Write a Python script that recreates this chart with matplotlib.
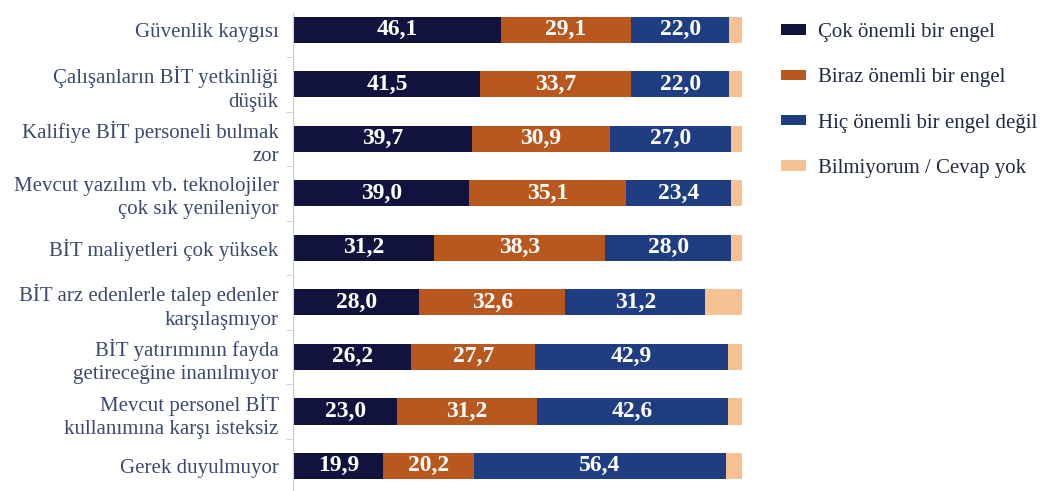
import matplotlib
matplotlib.use("Agg")
import matplotlib.pyplot as plt
import numpy as np

categories = [
    "Güvenlik kaygısı",
    "Çalışanların BİT yetkinliği\ndüşük",
    "Kalifiye BİT personeli bulmak\nzor",
    "Mevcut yazılım vb. teknolojiler\nçok sık yenileniyor",
    "BİT maliyetleri çok yüksek",
    "BİT arz edenlerle talep edenler\nkarşılaşmıyor",
    "BİT yatırımının fayda\ngetireceğine inanılmıyor",
    "Mevcut personel BİT\nkullanımına karşı isteksiz",
    "Gerek duyulmuyor",
]
series_names = ["Çok önemli bir engel", "Biraz önemli bir engel",
                "Hiç önemli bir engel değil", "Bilmiyorum / Cevap yok"]
cok_onemli = [46.1, 41.5, 39.7, 39.0, 31.2, 28.0, 26.2, 23.0, 19.9]
biraz_onemli = [29.1, 33.7, 30.9, 35.1, 38.3, 32.6, 27.7, 31.2, 20.2]
hic_onemli = [22.0, 22.0, 27.0, 23.4, 28.0, 31.2, 42.9, 42.6, 56.4]
bilmiyorum = [2.8, 2.8, 2.4, 2.5, 2.5, 8.2, 3.2, 3.2, 3.5]

colors = ["#12123f", "#b8581f", "#1f3e82", "#f6c293"]
label_color = "#3c4a70"
serif = ["Liberation Serif", "DejaVu Serif"]

fig = plt.figure(figsize=(10.44, 4.91), dpi=100)
ax = fig.add_axes([294/1044, 0, 448/1044, 1 - 13/491])

y = np.arange(len(categories))
data = [cok_onemli, biraz_onemli, hic_onemli, bilmiyorum]
left = np.zeros(len(categories))
handles = []
for i, (vals, c, name) in enumerate(zip(data, colors, series_names)):
    vals = np.array(vals)
    b = ax.barh(y, vals, left=left, height=0.48, color=c, label=name)
    handles.append(b)
    if i < 3:
        for yi, l, v in zip(y, left, vals):
            ax.text(l + v / 2, yi, f"{v:.1f}".replace(".", ","), ha="center",
                    va="center", color="white", fontsize=17, fontweight="bold",
                    family=serif)
    left += vals

ax.set_xlim(0, 100)
ax.set_ylim(8.46, -0.31)
for s in ["top", "right", "bottom"]:
    ax.spines[s].set_visible(False)
ax.spines["left"].set_color("#c8ccd6")
ax.spines["left"].set_position(("outward", 1))
ax.set_xticks([])
ax.set_yticks(y)
ax.set_yticklabels(categories, family=serif, fontsize=15, color=label_color,
                   linespacing=1.3)
ax.tick_params(axis="y", which="major", length=0, pad=10)
ax.set_yticks(np.arange(0.5, len(categories) - 0.5), minor=True)
ax.tick_params(axis="y", which="minor", length=5, color="#c8ccd6")

leg = fig.legend(handles=handles, labels=series_names, loc="upper left",
                 bbox_to_anchor=(762/1044, 1 - 4/491), frameon=False,
                 prop={"family": serif, "size": 15}, labelcolor="#222a44",
                 handlelength=1.2, handleheight=0.4, handletextpad=0.6,
                 labelspacing=1.27)

fig.savefig("out.png", dpi=100)
